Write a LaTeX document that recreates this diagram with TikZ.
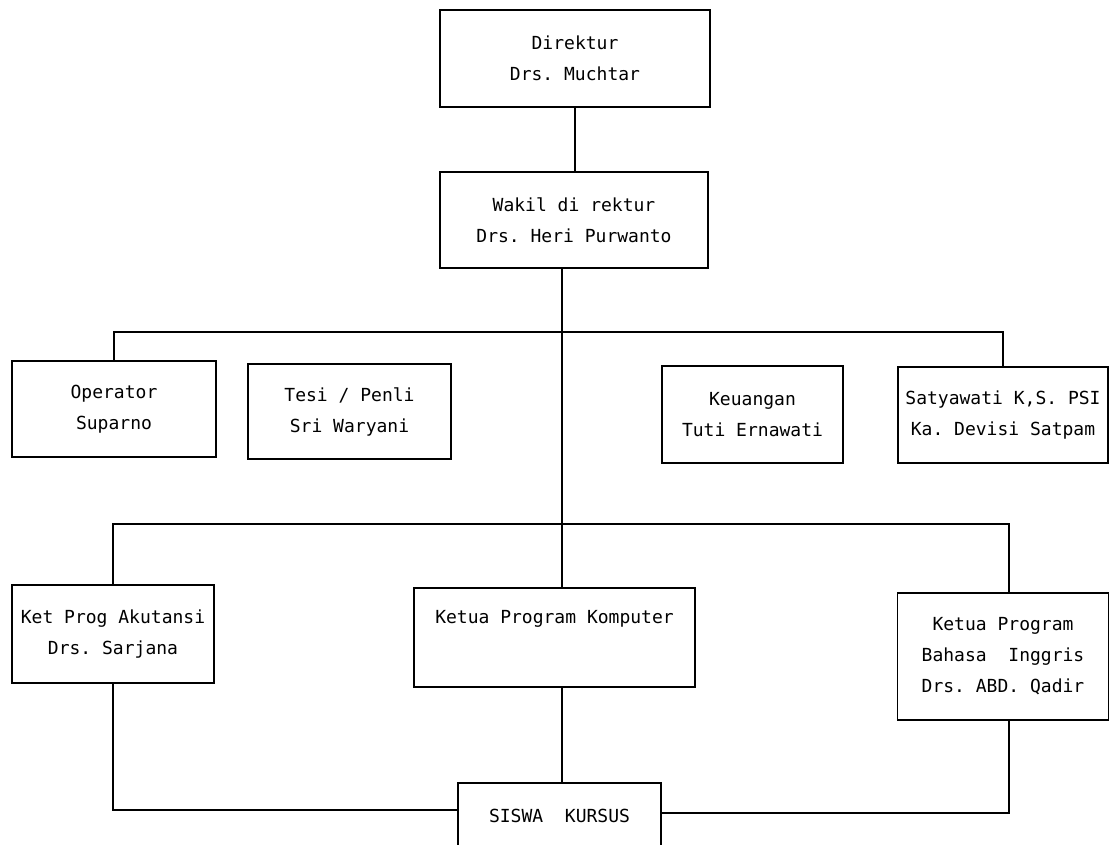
\documentclass[tikz,border=0pt]{standalone}
\usepackage{fontspec}
\setmonofont{DejaVu Sans Mono}
\tikzset{
  orgbox/.style={draw, line width=1.4pt, align=center, inner sep=0pt,
    font=\ttfamily\fontsize{18}{31}\selectfont},
  orgline/.style={line width=1.4pt}
}
\begin{document}
\begin{tikzpicture}[x=1pt, y=-1pt]
\useasboundingbox (0,0) rectangle (1109,844);

% Top of the chart
\node[orgbox, minimum width=270pt, minimum height=97pt] (dir) at (575, 58.5) {Direktur\\Drs. Muchtar};
\node[orgbox, minimum width=268pt, minimum height=96pt] (wakil) at (574, 220) {Wakil di rektur\\Drs. Heri Purwanto};

% Staff row
\node[orgbox, minimum width=204pt, minimum height=96pt] (oper) at (114, 409) {Operator\\Suparno};
\node[orgbox, minimum width=203pt, minimum height=95pt] (tesi) at (349.5, 411.5) {Tesi / Penli\\Sri Waryani};
\node[orgbox, minimum width=181pt, minimum height=97pt] (keu) at (752.5, 414.5) {Keuangan\\Tuti Ernawati};
\node[orgbox, minimum width=210pt, minimum height=96pt] (saty) at (1003, 415) {Satyawati K,S. PSI\\ Ka. Devisi Satpam};

% Program row
\node[orgbox, minimum width=202pt, minimum height=98pt] (akut) at (113, 634) {Ket Prog Akutansi\\Drs. Sarjana};
\node[orgbox, minimum width=281pt, minimum height=99pt] (komp) at (554.5, 637.5) {Ketua Program Komputer\\\strut};
\node[orgbox, minimum width=211pt, minimum height=127pt] (bhs) at (1003, 656.5) {Ketua Program\\Bahasa\ \ Inggris\\Drs. ABD. Qadir};

% Students
\node[orgbox, minimum width=203pt, minimum height=66pt] (siswa) at (559.5, 816) {SISWA\ \ KURSUS};

% Branch points on the trunk
\coordinate (t1) at (562, 332);
\coordinate (t2) at (562, 524);

% Lines
\draw[orgline] (dir.south) -- (dir.south |- wakil.north);
\draw[orgline] (wakil.south -| t1) -- (komp.north -| t1);
\draw[orgline] (oper.north) |- (t1) -| (saty.north);
\draw[orgline] (akut.north) |- (t2) -| ([xshift=6pt]bhs.north);
\draw[orgline] (komp.south -| t2) -- (siswa.north -| t2);
\draw[orgline] (akut.south) |- ([yshift=6pt]siswa.west);
\draw[orgline] ([xshift=6pt]bhs.south) |- ([yshift=3pt]siswa.east);
\end{tikzpicture}
\end{document}
